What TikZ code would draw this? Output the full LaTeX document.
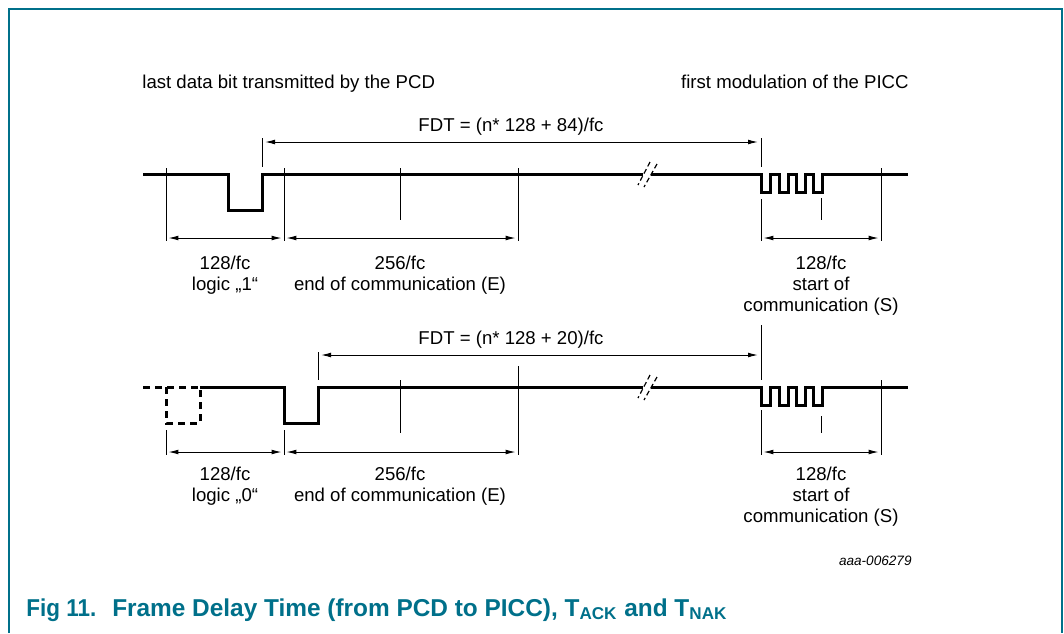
\documentclass[tikz,border=0pt]{standalone}
\usepackage{fontspec}
\setmainfont{Liberation Sans}
\usetikzlibrary{arrows.meta}
\definecolor{nxpteal}{RGB}{0,112,138}
\begin{document}
\begin{tikzpicture}[x=0.5pt,y=-0.5pt,
  frameline/.style={draw=nxpteal, line width=0.75pt},
  wave/.style={line width=1.5pt, line join=miter, line cap=butt},
  dashwave/.style={wave, dash pattern=on 3.5pt off 2.5pt},
  tickline/.style={line width=0.5pt},
  dimarrow/.style={line width=0.5pt, {Latex[length=5pt,width=2.4pt]}-{Latex[length=5pt,width=2.4pt]}, shorten <=1.2pt, shorten >=1.2pt},
  fdtarrow/.style={line width=0.5pt, {Latex[length=5pt,width=2.4pt]}-{Latex[length=5pt,width=2.4pt]}, shorten <=1.5pt, shorten >=1.5pt},
  brk/.style={line width=0.6pt, dash pattern=on 2.5pt off 1.5pt},
  lbl/.style={font=\fontsize{9.3}{11}\selectfont, inner sep=0pt, anchor=base},
  captext/.style={font=\fontsize{12.2}{14}\selectfont\bfseries, text=nxpteal, inner sep=0pt, anchor=base west},
  idtext/.style={font=\fontsize{6.8}{8}\selectfont\itshape, inner sep=0pt, anchor=base east}
]
\useasboundingbox (0,0) rectangle (1064,633);
% frame
\draw[frameline] (9,633) -- (9,9) -- (1062,9) -- (1062,633);

% headers
\node[lbl, anchor=base west] (hl) at (142,88) {last data bit transmitted by the PCD};
\node[lbl, anchor=base east] (hr) at (909,88) {first modulation of the PICC};

% ===== top waveform =====
\draw[wave] (143,174) -- (228,174) -- (228,210) -- (262,210) -- (262,174) -- (643,174);
\draw[wave] (651,174) -- (761,174) -- (761,192) -- (770,192) -- (770,174) -- (779,174)
  -- (779,192) -- (788,192) -- (788,174) -- (796,174) -- (796,192) -- (805,192)
  -- (805,174) -- (813,174) -- (813,192) -- (822,192) -- (822,174) -- (908,174);
\draw[brk] (650,162) -- (638,185);
\draw[brk] (657,164) -- (644,187);

% ticks top
\draw[tickline] (166,168) -- (166,241);
\draw[tickline] (284,168) -- (284,241);
\draw[tickline] (400,168) -- (400,220);
\draw[tickline] (518,168) -- (518,241);
\draw[tickline] (262,138) -- (262,167);
\draw[tickline] (761,138) -- (761,167);
\draw[tickline] (761,199) -- (761,241);
\draw[tickline] (821,198) -- (821,220);
\draw[tickline] (881,168) -- (881,241);

\coordinate (fa1) at (262,142);
\coordinate (fb1) at (761,142);
\draw[fdtarrow] (fa1) -- (fb1);
\coordinate (da1) at (166,238);
\coordinate (db1) at (284,238);
\coordinate (dc1) at (518,238);
\coordinate (dd1) at (761,238);
\coordinate (de1) at (881,238);
\draw[dimarrow] (da1) -- (db1);
\draw[dimarrow] (db1) -- (dc1);
\draw[dimarrow] (dd1) -- (de1);

\node[lbl] (fdt1) at (511,131) {FDT = (n* 128 + 84)/fc};
\node[lbl] (l1a) at (225,269) {128/fc};
\node[lbl] (l1b) at (225,290) {logic „1“};
\node[lbl] (l2a) at (400,269) {256/fc};
\node[lbl] (l2b) at (400,290) {end of communication (E)};
\node[lbl] (l3a) at (821,269) {128/fc};
\node[lbl] (l3b) at (821,290) {start of};
\node[lbl] (l3c) at (821,311) {communication (S)};

% ===== bottom waveform =====
\draw[dashwave] (143,387) -- (200,387);
\draw[dashwave] (166,387) -- (166,423) -- (200,423) -- (200,387);
\draw[wave] (200,387) -- (284,387) -- (284,423) -- (318,423) -- (318,387) -- (643,387);
\draw[wave] (651,387) -- (761,387) -- (761,405) -- (770,405) -- (770,387) -- (779,387)
  -- (779,405) -- (788,405) -- (788,387) -- (796,387) -- (796,405) -- (805,405)
  -- (805,387) -- (813,387) -- (813,405) -- (822,405) -- (822,387) -- (908,387);
\draw[brk] (650,375) -- (638,398);
\draw[brk] (657,377) -- (644,400);

% ticks bottom
\draw[tickline] (166,430) -- (166,455);
\draw[tickline] (284,430) -- (284,455);
\draw[tickline] (400,380) -- (400,433);
\draw[tickline] (518,366) -- (518,455);
\draw[tickline] (318,352) -- (318,380);
\draw[tickline] (761,325) -- (761,380);
\draw[tickline] (761,410) -- (761,455);
\draw[tickline] (821,416) -- (821,433);
\draw[tickline] (881,380) -- (881,455);

\coordinate (fa2) at (318,355);
\coordinate (fb2) at (761,355);
\draw[fdtarrow] (fa2) -- (fb2);
\coordinate (da2) at (166,452);
\coordinate (db2) at (284,452);
\coordinate (dc2) at (518,452);
\coordinate (dd2) at (761,452);
\coordinate (de2) at (881,452);
\draw[dimarrow] (da2) -- (db2);
\draw[dimarrow] (db2) -- (dc2);
\draw[dimarrow] (dd2) -- (de2);

\node[lbl] (fdt2) at (511,344) {FDT = (n* 128 + 20)/fc};
\node[lbl] (m1a) at (225,480) {128/fc};
\node[lbl] (m1b) at (225,501) {logic „0“};
\node[lbl] (m2a) at (400,480) {256/fc};
\node[lbl] (m2b) at (400,501) {end of communication (E)};
\node[lbl] (m3a) at (821,480) {128/fc};
\node[lbl] (m3b) at (821,501) {start of};
\node[lbl] (m3c) at (821,522) {communication (S)};

% code and caption
\node[idtext] (id) at (912,565) {aaa-006279};
\node[captext] (caption) at (26,616) {\scalebox{0.92}[1]{Fig 11.}\hspace{8pt}Frame Delay Time (from PCD to PICC), T\textsubscript{ACK} and T\textsubscript{NAK}};
\end{tikzpicture}
\end{document}
